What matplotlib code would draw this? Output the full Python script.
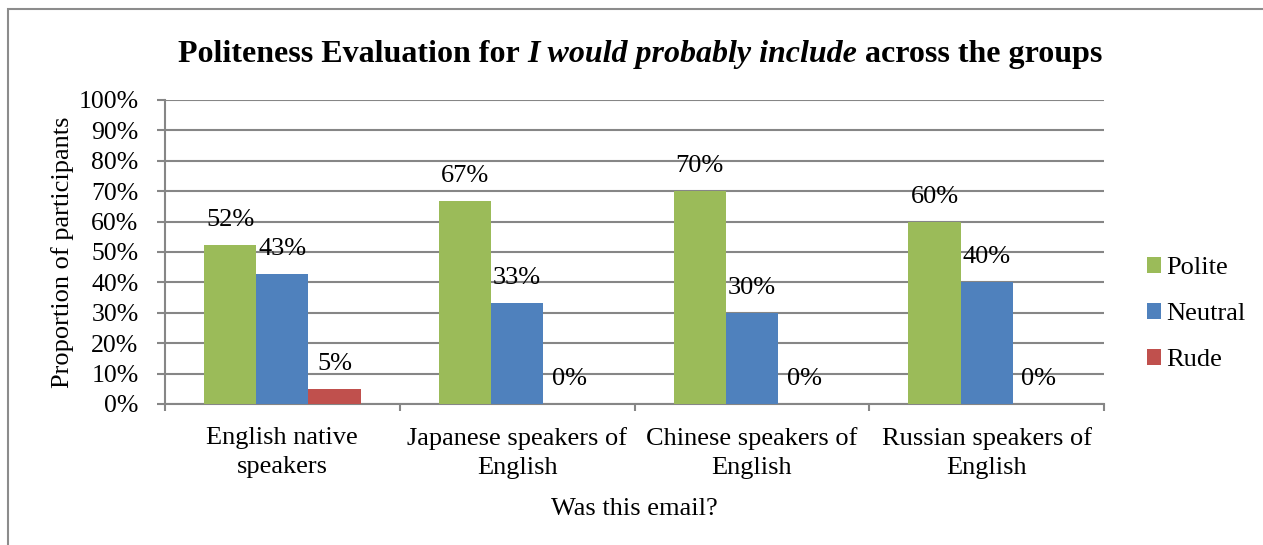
import numpy as np
import matplotlib.pyplot as plt
from matplotlib.patches import Rectangle

plt.rcParams['font.family'] = ['Liberation Serif', 'DejaVu Serif']

# data
groups = ['English native\nspeakers', 'Japanese speakers of\nEnglish',
          'Chinese speakers of\nEnglish', 'Russian speakers of\nEnglish']
series = ['Polite', 'Neutral', 'Rude']
polite = [0.524, 0.667, 0.70, 0.60]
neutral = [0.429, 0.333, 0.30, 0.40]
rude = [0.048, 0.0, 0.0, 0.0]
yticks = np.arange(0, 1.01, 0.1)

colors = ['#9BBB59', '#4F81BD', '#C0504D']
grid_c = '#868686'
fs = 19

fig = plt.figure(figsize=(12.63, 5.45), dpi=100)
ax = fig.add_axes([165/1263, 141/545, 939/1263, 304/545])

x = np.arange(len(groups))
bw = 1 / 4.5
for i, (name, vals) in enumerate(zip(series, [polite, neutral, rude])):
    pos = x + (i - 1) * bw
    ax.bar(pos, vals, width=bw, color=colors[i], label=name, zorder=3)
    for p, v in zip(pos, vals):
        ax.annotate(f'{v*100:.0f}%', (p, v), xytext=(0, 18),
                    textcoords='offset points', ha='center', va='center',
                    fontsize=fs)

ax.set_xlim(-0.5, len(groups) - 0.5)
ax.set_ylim(0, 1)
ax.set_yticks(yticks)
ax.set_yticklabels([f'{t*100:.0f}%' for t in yticks], fontsize=18.5)
ax.yaxis.grid(True, color=grid_c, linewidth=1.5, zorder=0)
ax.tick_params(axis='y', length=6, width=1.5, color=grid_c, pad=13)

ax.set_xticks(x)
ax.set_xticklabels(groups, fontsize=fs, linespacing=1.4)
ax.set_xticks(np.arange(-0.5, len(groups)), minor=True)
ax.tick_params(axis='x', which='major', length=0, pad=16.5)
ax.tick_params(axis='x', which='minor', length=5, width=1.5, color=grid_c)

for s in ['top', 'right']:
    ax.spines[s].set_visible(False)
for s in ['left', 'bottom']:
    ax.spines[s].set_color(grid_c)
    ax.spines[s].set_linewidth(1.5)

ax.set_xlabel('Was this email?', fontsize=fs, labelpad=14)
ax.set_ylabel('Proportion of participants', fontsize=fs, labelpad=3)

leg = ax.legend(loc='center left', bbox_to_anchor=(1.02, 0.296), frameon=False,
                fontsize=fs, handlelength=0.55, handleheight=0.55,
                handletextpad=0.2, labelspacing=0.9)

# title with an italic part
parts = [('Politeness Evaluation for ', 'normal'),
         ('I would probably include', 'italic'),
         (' across the groups', 'normal')]
fig.canvas.draw()
r = fig.canvas.get_renderer()
texts = []
for s, st in parts:
    t = fig.text(0, 0, s, fontsize=23, fontweight='bold', style=st,
                 va='baseline')
    texts.append(t)
widths = [t.get_window_extent(r).width for t in texts]
total = sum(widths)
x0 = 640 - total / 2
for t, w in zip(texts, widths):
    t.set_position((x0 / 1263, 1 - 62 / 545))
    x0 += w

# outer border
fig.add_artist(Rectangle((8/1263, -0.1), 1.2, 1 - 9/545 + 0.1,
                         transform=fig.transFigure, fill=False,
                         edgecolor='#8C8C8C', linewidth=1.5))

fig.savefig('out.png', dpi=100)
